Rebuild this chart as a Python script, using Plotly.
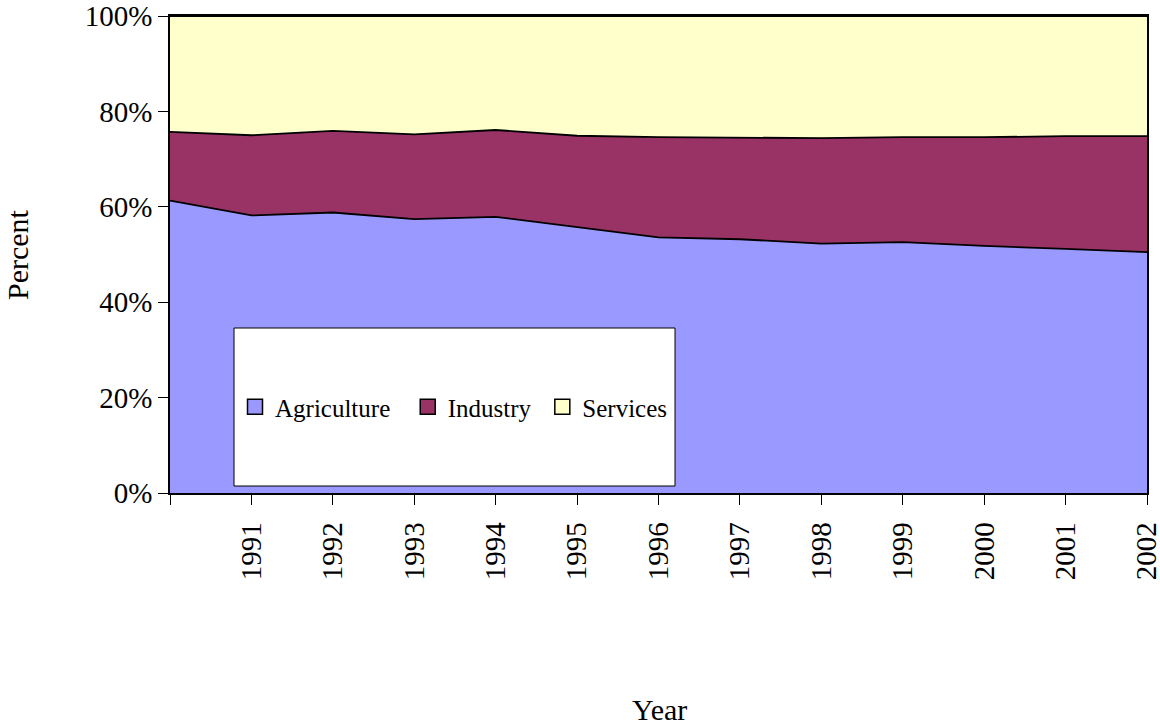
import plotly.graph_objects as go

years = [1990, 1991, 1992, 1993, 1994, 1995, 1996, 1997, 1998, 1999, 2000, 2001, 2002]
year_labels = ["", "1991", "1992", "1993", "1994", "1995", "1996", "1997", "1998", "1999", "2000", "2001", "2002"]
agriculture = [61.3, 58.2, 58.8, 57.4, 57.9, 55.7, 53.6, 53.2, 52.3, 52.6, 51.8, 51.2, 50.5]
industry = [14.4, 16.8, 17.1, 17.8, 18.2, 19.2, 21.0, 21.3, 22.1, 22.0, 22.8, 23.6, 24.3]
services = [24.3, 25.0, 24.1, 24.8, 23.9, 25.1, 25.4, 25.5, 25.6, 25.4, 25.4, 25.2, 25.2]

colors = {"Agriculture": "#9999FF", "Industry": "#993366", "Services": "#FFFFCC"}
FONT = "Liberation Serif, Times New Roman, serif"

fig = go.Figure()
for name, vals in [("Agriculture", agriculture), ("Industry", industry), ("Services", services)]:
    fig.add_trace(go.Scatter(
        x=years, y=vals, name=name, mode="lines", stackgroup="one",
        line=dict(color="black", width=1.8), fillcolor=colors[name],
        hoverinfo="x+y+name", showlegend=False,
    ))
# legend-only entries with square swatches
legend_names = {"Agriculture": "Agriculture\u00a0\u00a0", "Industry": "Industry\u00a0", "Services": "Services"}
for name in ["Agriculture", "Industry", "Services"]:
    fig.add_trace(go.Scatter(
        x=[None], y=[None], name=legend_names[name], mode="markers",
        marker=dict(symbol="square", size=15, color=colors[name], line=dict(color="black", width=1.5)),
        showlegend=True,
    ))

W, H = 1160, 726
L, T = 170, 16
PW, PH = 977, 477

def px(xpage):
    return (xpage - L) / PW

def py(ypage):
    return (T + PH - ypage) / PH

fig.update_layout(
    width=W, height=H,
    margin=dict(l=L, r=W - L - PW, t=T, b=H - T - PH, autoexpand=False),
    paper_bgcolor="white", plot_bgcolor="white",
    font=dict(family=FONT, size=29, color="black"),
    showlegend=True,
    legend=dict(
        orientation="h", x=px(454), y=py(407), xanchor="center", yanchor="middle",
        bgcolor="rgba(0,0,0,0)", borderwidth=0, traceorder="normal",
        font=dict(family=FONT, size=25, color="black"),
        itemwidth=30,
    ),
    xaxis=dict(
        range=[1990, 2002], tickmode="array", tickvals=years, ticktext=year_labels,
        tickangle=-90, ticks="outside", ticklen=10, tickcolor="black", tickwidth=1,
        showline=True, linecolor="black", linewidth=1.5, mirror=True,
        showgrid=False, zeroline=False, ticklabelstandoff=6, automargin=False,
        ticklabeloverflow="allow",
        tickfont=dict(family=FONT, size=29, color="black"),
    ),
    yaxis=dict(
        range=[0, 100], tickmode="array", tickvals=[0, 20, 40, 60, 80, 100],
        ticktext=["0%", "20%", "40%", "60%", "80%", "100%"],
        ticks="outside", ticklen=10, tickcolor="black", tickwidth=1,
        showline=True, linecolor="black", linewidth=1.5, mirror=True,
        showgrid=False, zeroline=False, automargin=False,
        ticklabeloverflow="allow",
        tickfont=dict(family=FONT, size=29, color="black"),
    ),
    shapes=[dict(
        type="rect", xref="paper", yref="paper",
        x0=px(234), x1=px(675), y0=py(486), y1=py(328),
        fillcolor="white", line=dict(color="black", width=1), layer="above",
    )],
    annotations=[
        dict(text="Percent", xref="paper", yref="paper", x=px(18), y=py(255),
             xanchor="center", yanchor="middle", textangle=-90, showarrow=False,
             font=dict(family=FONT, size=30, color="black")),
        dict(text="Year", xref="paper", yref="paper", x=px(659), y=py(709),
             xanchor="center", yanchor="middle", showarrow=False,
             font=dict(family=FONT, size=30, color="black")),
    ],
)

fig.write_html("out.html", config={"displayModeBar": False},
               post_script="document.body.style.margin='0';")
